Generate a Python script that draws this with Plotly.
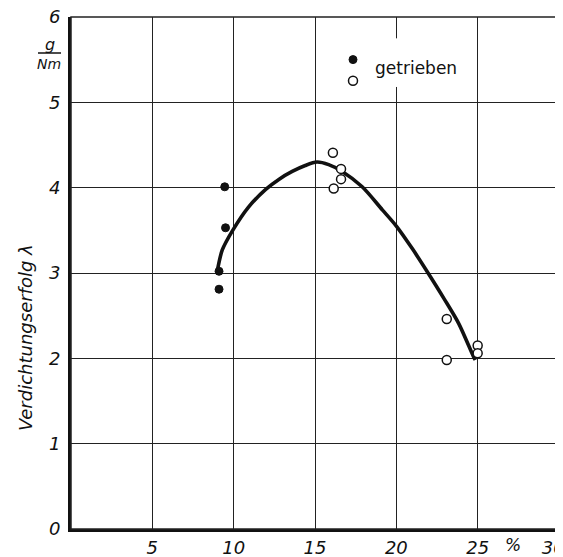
import plotly.graph_objects as go

# --- data ---
filled_x = [9.1, 9.1, 9.45, 9.5]
filled_y = [3.02, 2.81, 4.01, 3.53]

open_x = [16.1, 16.6, 16.6, 16.15, 23.1, 23.1, 25.0, 25.0]
open_y = [4.41, 4.22, 4.10, 3.99, 2.46, 1.98, 2.15, 2.06]

curve_x = [9.0, 9.3, 9.94, 10.9, 11.97, 12.8, 13.6, 14.4, 15.12, 15.84,
           16.67, 17.9, 19.14, 20.0, 21.0, 21.95, 22.93, 23.83, 24.72, 24.85]
curve_y = [3.03, 3.27, 3.50, 3.77, 3.98, 4.10, 4.19, 4.26, 4.30, 4.27,
           4.19, 4.01, 3.74, 3.55, 3.28, 3.00, 2.70, 2.41, 2.03, 1.98]

x_ticks = [5, 10, 15, 20, 25, 30]
x_ticktext = ["5", "10", "15", "20", "25", "30\u00a0\u00a0"]
y_ticks = [0, 1, 2, 3, 4, 5, 6]
y_ticktext = ["0", "1", "2", "3", "4", "5", "6"]

ylabel = "Verdichtungserfolg λ"
legend_text = "getrieben"

INK = "#111111"
tick_font = dict(family="DejaVu Sans", size=18, color=INK, style="italic")

# page body has an 8px margin, so the figure is sized/placed to fit the window
OFF = 8
PL, PR, PT, PB = 71, 559, 17, 529   # plot area in window pixels
W, H = 563 - OFF, 557 - OFF

def px_x(p):
    return (p - PL) / (PR - PL)

def px_y(p):
    return (PB - p) / (PB - PT)

fig = go.Figure()
fig.add_trace(go.Scatter(x=curve_x, y=curve_y, mode="lines",
                         line=dict(color=INK, width=3.6, shape="spline", smoothing=0.8),
                         showlegend=False, hoverinfo="skip"))
fig.add_trace(go.Scatter(x=filled_x, y=filled_y, mode="markers", name=" ",
                         marker=dict(symbol="circle", size=8, color=INK,
                                     line=dict(color=INK, width=1))))
fig.add_trace(go.Scatter(x=open_x, y=open_y, mode="markers", name="  ",
                         marker=dict(symbol="circle", size=9, color="white",
                                     line=dict(color=INK, width=1.5))))

fig.update_layout(
    width=W, height=H,
    margin=dict(l=PL - OFF, r=OFF + W - PR, t=PT - OFF, b=OFF + H - PB, autoexpand=False),
    paper_bgcolor="white", plot_bgcolor="white",
    showlegend=True,
    legend=dict(x=px_x(333), y=px_y(44), xanchor="left", yanchor="top",
                bgcolor="rgba(0,0,0,0)", font=dict(size=14, family="DejaVu Sans"),
                itemwidth=30, tracegroupgap=0),
    xaxis=dict(range=[0, 30], tickvals=x_ticks, ticktext=x_ticktext, automargin=False,
               showgrid=True, gridcolor="#222222", gridwidth=1.3,
               showline=True, linecolor=INK, linewidth=3, zeroline=False,
               ticks="", tickfont=tick_font, ticklabelstandoff=0,
               ticklabeloverflow="allow", fixedrange=True),
    yaxis=dict(range=[0, 6], tickvals=y_ticks, ticktext=y_ticktext, automargin=False,
               showgrid=True, gridcolor="#222222", gridwidth=1.3,
               showline=True, linecolor=INK, linewidth=3, zeroline=False,
               ticks="", tickfont=tick_font, ticklabelstandoff=4,
               ticklabeloverflow="allow", fixedrange=True),
    shapes=[
        dict(type="rect", xref="paper", yref="paper", x0=0, y0=0, x1=1, y1=1,
             line=dict(color="#222222", width=1.5), layer="above"),
        # gap in the 20 gridline behind the legend
        dict(type="rect", xref="x", yref="y", x0=19.6, x1=20.4, y0=5.18, y1=5.75,
             fillcolor="white", line=dict(width=0), layer="between"),
        # fraction bar of unit g/Nm
        dict(type="line", xref="paper", yref="paper", x0=px_x(38), x1=px_x(61),
             y0=px_y(53), y1=px_y(53), line=dict(color=INK, width=1.5)),
    ],
    annotations=[
        dict(text=legend_text, x=px_x(416), y=px_y(68), xref="paper", yref="paper",
             xanchor="center", yanchor="middle", showarrow=False,
             font=dict(family="DejaVu Sans", size=17, color=INK)),
        dict(text="g", x=px_x(50), y=px_y(44), xref="paper", yref="paper",
             xanchor="center", yanchor="middle", showarrow=False,
             font=dict(family="DejaVu Sans", size=16, color=INK, style="italic")),
        dict(text="Nm", x=px_x(49), y=px_y(64), xref="paper", yref="paper",
             xanchor="center", yanchor="middle", showarrow=False,
             font=dict(family="DejaVu Sans", size=14, color=INK, style="italic")),
        dict(text="%", x=27.2, y=px_y(545), xref="x", yref="paper",
             xanchor="center", yanchor="middle", showarrow=False,
             font=dict(family="DejaVu Sans", size=17, color=INK, style="italic")),
        dict(text=ylabel, x=px_x(25), y=px_y(338), xref="paper", yref="paper",
             xanchor="center", yanchor="middle", textangle=-90, showarrow=False,
             font=dict(family="DejaVu Sans", size=18, color=INK, style="italic")),
    ],
)

fig.write_html("out.html")
